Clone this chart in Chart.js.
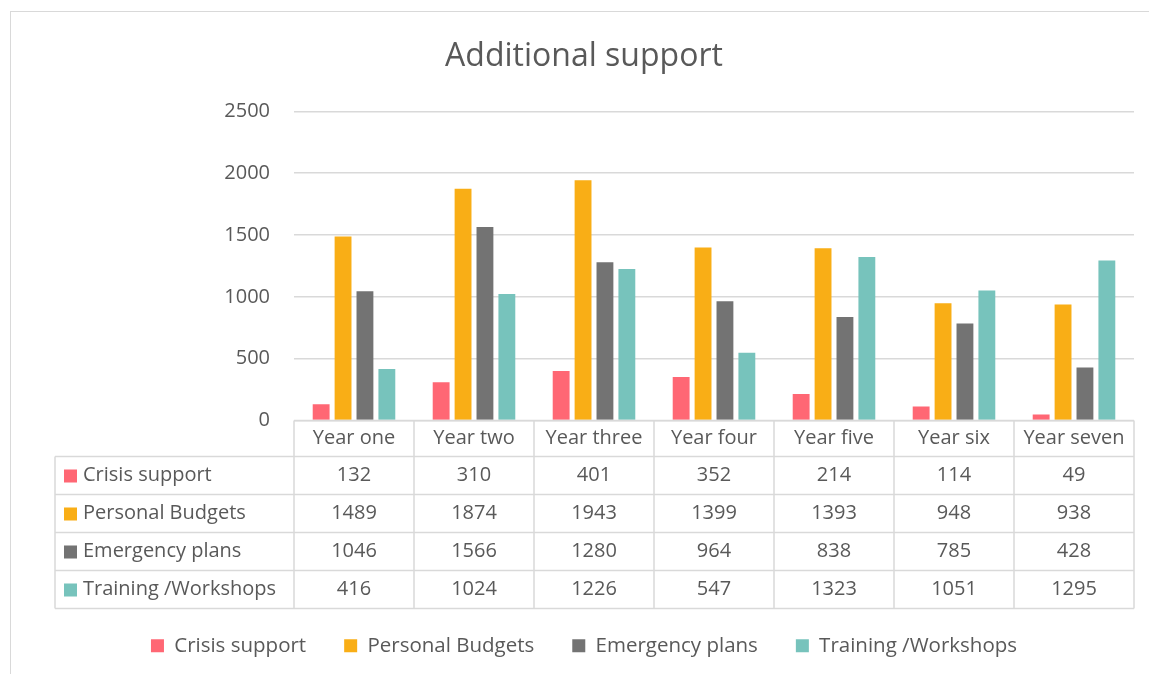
<!DOCTYPE html>
<html lang="en">
<head>
<meta charset="UTF-8">
<title>Additional support</title>
<script src="https://cdn.jsdelivr.net/npm/chart.js"></script>
<style>
    html, body { margin: 0; padding: 0; background: #fff; overflow: hidden; }
    .frame {
        position: absolute; left: 10px; top: 11px;
        width: 1200px; height: 700px;
        border: 1.5px solid #d9d9d9;
    }
    .chart-box { position: absolute; left: 0; top: 0; width: 1149px; height: 674px; }
</style>
</head>
<body>
<div class="frame"></div>
<div class="chart-box"><canvas id="supportChart" width="1149" height="674"></canvas></div>
<script>
    // data
    const years = ["Year one", "Year two", "Year three", "Year four", "Year five", "Year six", "Year seven"];
    const crisisSupport = [132, 310, 401, 352, 214, 114, 49];
    const personalBudgets = [1489, 1874, 1943, 1399, 1393, 948, 938];
    const emergencyPlans = [1046, 1566, 1280, 964, 838, 785, 428];
    const trainingWorkshops = [416, 1024, 1226, 547, 1323, 1051, 1295];
    const yTicks = [0, 500, 1000, 1500, 2000, 2500];

    const textColor = "#595959";
    const lineColor = "#d9d9d9";
    const fontFamily = "'Open Sans', sans-serif";

    Chart.defaults.font.family = fontFamily;
    Chart.defaults.color = textColor;

    // draws the data table under the bars (Excel style)
    const dataTable = {
        id: "dataTable",
        afterDraw(chart) {
            const ctx = chart.ctx;
            const x = chart.scales.x;
            const area = chart.chartArea;
            const top = area.bottom;
            const headerH = 36, rowH = 38, labelLeft = 55;
            const step = x.getPixelForValue(1) - x.getPixelForValue(0);
            const sets = chart.data.datasets;
            const bottom = top + headerH + rowH * sets.length;

            ctx.save();
            ctx.strokeStyle = lineColor;
            ctx.lineWidth = 1.5;
            ctx.beginPath();
            ctx.moveTo(area.left, top);
            ctx.lineTo(area.right, top);
            for (let r = 0; r <= sets.length; r++) {
                const y = top + headerH + r * rowH;
                ctx.moveTo(labelLeft, y);
                ctx.lineTo(area.right, y);
            }
            for (let i = 0; i <= chart.data.labels.length; i++) {
                const xx = area.left + i * step;
                ctx.moveTo(xx, top);
                ctx.lineTo(xx, bottom);
            }
            ctx.moveTo(labelLeft, top + headerH);
            ctx.lineTo(labelLeft, bottom);
            ctx.stroke();

            ctx.font = "20px " + fontFamily;
            ctx.textBaseline = "middle";
            ctx.textAlign = "center";
            ctx.fillStyle = textColor;
            chart.data.labels.forEach((lab, i) => ctx.fillText(lab, x.getPixelForValue(i), top + headerH / 2));

            sets.forEach((ds, r) => {
                const cy = top + headerH + r * rowH + rowH / 2;
                ctx.fillStyle = ds.backgroundColor;
                ctx.fillRect(labelLeft + 9, cy - 6, 13, 13);
                ctx.fillStyle = textColor;
                ctx.textAlign = "left";
                ctx.fillText(ds.label, labelLeft + 28, cy);
                ctx.textAlign = "center";
                ds.data.forEach((v, i) => ctx.fillText(v, x.getPixelForValue(i), cy));
            });
            ctx.restore();
        }
    };

    const ctx = document.getElementById("supportChart").getContext("2d");
    new Chart(ctx, {
        type: "bar",
        data: {
            labels: years,
            datasets: [
                { label: "Crisis support", data: crisisSupport, backgroundColor: "#ff6774" },
                { label: "Personal Budgets", data: personalBudgets, backgroundColor: "#f9ae16" },
                { label: "Emergency plans", data: emergencyPlans, backgroundColor: "#737373" },
                { label: "Training /Workshops", data: trainingWorkshops, backgroundColor: "#77c3bc" }
            ]
        },
        options: {
            responsive: false,
            animation: false,
            categoryPercentage: 0.73,
            barPercentage: 0.77,
            layout: { padding: { left: 34, right: 15, top: 8, bottom: 8 } },
            plugins: {
                title: {
                    display: true,
                    text: "Additional support",
                    color: textColor,
                    font: { size: 32, weight: "normal" },
                    padding: { top: 30, bottom: 35 }
                },
                legend: {
                    position: "bottom",
                    labels: {
                        boxWidth: 13,
                        boxHeight: 13,
                        padding: 38,
                        color: textColor,
                        font: { size: 20.5 }
                    }
                },
                tooltip: { enabled: false }
            },
            scales: {
                x: {
                    grid: { display: false },
                    border: { display: false },
                    ticks: { display: false },
                    // table is 188px tall; it runs a little into the legend's top margin
                    afterFit: (scale) => { scale.height = 177; }
                },
                y: {
                    min: 0,
                    max: 2500,
                    afterBuildTicks: (scale) => { scale.ticks = yTicks.map(v => ({ value: v })); },
                    grid: { color: lineColor, lineWidth: 1.5, drawTicks: false },
                    border: { display: false },
                    ticks: { padding: 24, color: textColor, font: { size: 20 }, callback: (v) => String(v) },
                    afterFit: (scale) => { scale.width = 260; }
                }
            }
        },
        plugins: [dataTable]
    });
</script>
</body>
</html>
